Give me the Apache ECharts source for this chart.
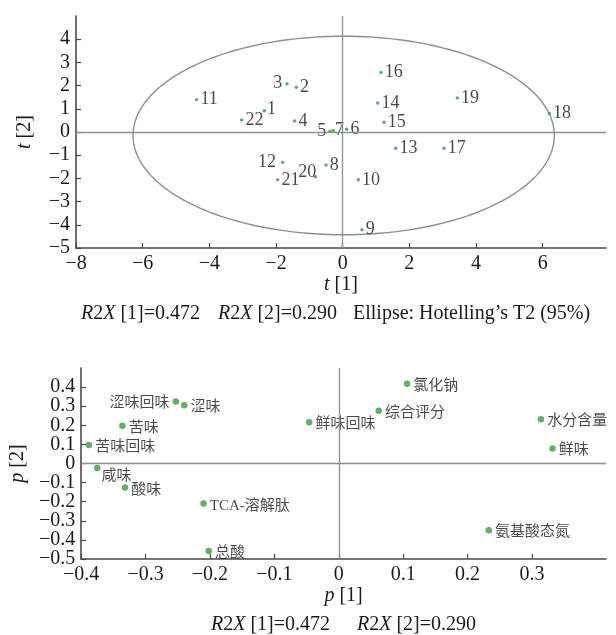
<!DOCTYPE html>
<html>
<head>
<meta charset="utf-8">
<title>PCA scores and loadings</title>
<script src="https://cdn.jsdelivr.net/npm/echarts@6/dist/echarts.min.js"></script>
<style>
  html, body { margin: 0; padding: 0; background: #fff; }
  #chart { width: 616px; height: 635px; }
</style>
</head>
<body>
<div id="chart"></div>
<script>
// score plot t[1] / t[2]
const sampleIds = ['1', '2', '3', '4', '5', '6', '7', '8', '9', '10', '11',
  '12', '13', '14', '15', '16', '17', '18', '19', '20', '21', '22']
const scoreT1 = [-2.35, -1.39, -1.67, -1.44, -0.38, 0.12, -0.28, -0.50, 0.58, 0.47, -4.38,
  -1.80, 1.59, 1.05, 1.24, 1.15, 3.04, 6.20, 3.44, -0.82, -1.95, -3.03]
const scoreT2 = [0.92, 1.93, 2.08, 0.47, 0.03, 0.12, 0.07, -1.42, -4.21, -2.06, 1.39,
  -1.31, -0.70, 1.25, 0.42, 2.56, -0.70, 0.80, 1.47, -1.93, -2.06, 0.52]

// Hotelling T2 (95%) ellipse
const ellipseCenter = [0.03, -0.15]
const ellipseRadii = [6.32, 4.28]

// loading plot p[1] / p[2]
const variableNames = ['涩味回味', '涩味', '苦味', '苦味回味', '咸味', '酸味', 'TCA-溶解肽', '总酸',
  '鲜味回味', '氯化钠', '综合评分', '水分含量', '鲜味', '氨基酸态氮']
const loadingP1 = [-0.253, -0.240, -0.336, -0.388, -0.375, -0.332, -0.210, -0.202,
  -0.046, 0.106, 0.062, 0.314, 0.332, 0.233]
const loadingP2 = [0.325, 0.305, 0.198, 0.097, -0.023, -0.126, -0.210, -0.458,
  0.216, 0.418, 0.276, 0.232, 0.079, -0.349]

// tick labels
const t1Ticks = [-8, -6, -4, -2, 0, 2, 4, 6]
const t2Ticks = [-5, -4, -3, -2, -1, 0, 1, 2, 3, 4]
const p1Ticks = [-0.4, -0.3, -0.2, -0.1, 0, 0.1, 0.2, 0.3]
const p2Ticks = [-0.5, -0.4, -0.3, -0.2, -0.1, 0, 0.1, 0.2, 0.3, 0.4]

const caption1 = ['{i|R}2{i|X} [1]=0.472', '{i|R}2{i|X} [2]=0.290', 'Ellipse: Hotelling’s T2 (95%)']
const caption2 = ['{i|R}2{i|X} [1]=0.472', '{i|R}2{i|X} [2]=0.290']

const SERIF = '"Liberation Serif", "DejaVu Serif", serif'
const CJK = '"Liberation Serif", "Noto Sans CJK SC", sans-serif'
const AXIS_COLOR = '#4a4a4a'
const GUIDE_COLOR = '#8f8f8f'
const DOT_COLOR = '#3f9a41'
const TEXT_COLOR = '#1a1a1a'

const fmt = (v) => {
  const s = Math.abs(v) < 1e-9 ? '0' : String(+v.toFixed(2))
  return s.replace('-', '\u2212')
}

// p[2] labels sit closer than their own height, so they are split over two
// overlaid axes (even / odd) to keep echarts from dropping any of them
const p2LabelsA = p2Ticks.filter((v, i) => i % 2 === 0)
const p2LabelsB = p2Ticks.filter((v, i) => i % 2 === 1)

// label tweaks for crowded points
const labelTweaks = {
  '3': { position: 'left', distance: 3 },
  '12': { position: 'left', distance: 5 },
  '5': { position: 'left', distance: 2 },
  '7': { position: 'right', distance: 0 },
  '1': { position: 'right', distance: 1, offset: [0, -1] },
  '20': { position: 'top', distance: 2, offset: [-8, 8] },
  '涩味回味': { position: 'left', distance: 3 },
  '咸味': { offset: [-2, 8] }
}

const scoreData = sampleIds.map((id, i) => {
  const item = { name: id, value: [scoreT1[i], scoreT2[i]] }
  if (labelTweaks[id]) item.label = labelTweaks[id]
  return item
})

const loadingData = variableNames.map((n, i) => {
  const item = { name: n, value: [loadingP1[i], loadingP2[i]] }
  if (labelTweaks[n]) item.label = labelTweaks[n]
  return item
})

const valueAxis = (extra) => Object.assign({
  type: 'value',
  splitLine: { show: false },
  axisLine: { show: true, onZero: false, lineStyle: { color: AXIS_COLOR, width: 1.6 } },
  nameLocation: 'middle',
  nameTextStyle: {
    fontFamily: SERIF, fontSize: 20, color: TEXT_COLOR,
    rich: { i: { fontFamily: SERIF, fontSize: 20, fontStyle: 'italic', color: TEXT_COLOR } }
  }
}, extra)

const tickStyle = (ticks) => ({
  show: true,
  inside: true,
  length: 5,
  customValues: ticks,
  lineStyle: { color: AXIS_COLOR, width: 1.2 }
})

const labelStyle = (ticks) => ({
  customValues: ticks,
  showMinLabel: true,
  showMaxLabel: true,
  hideOverlap: false,
  formatter: fmt,
  fontFamily: SERIF,
  fontSize: 20,
  color: TEXT_COLOR,
  margin: 6
})

const zeroLines = {
  silent: true,
  symbol: ['none', 'none'],
  label: { show: false },
  animation: false,
  lineStyle: { color: GUIDE_COLOR, type: 'solid', width: 1.3 },
  data: [{ xAxis: 0 }, { yAxis: 0 }]
}

const capStyle = (text, x, y) => ({
  type: 'text',
  left: x,
  top: y,
  style: {
    text: text,
    fontFamily: SERIF,
    fontSize: 20,
    fill: TEXT_COLOR,
    rich: { i: { fontFamily: SERIF, fontSize: 20, fontStyle: 'italic', fill: TEXT_COLOR } }
  }
})

const chart = echarts.init(document.getElementById('chart'), null, { renderer: 'canvas' })

chart.setOption({
  animation: false,
  backgroundColor: '#fff',
  grid: [
    { left: 76, right: 10, top: 16, height: 232 },
    { left: 76, right: 10, top: 368, height: 191 }
  ],
  xAxis: [
    valueAxis({
      gridIndex: 0, min: -8, max: 7.9, interval: 2,
      name: '{i|t} [1]', nameGap: 27,
      axisTick: tickStyle(t1Ticks),
      axisLabel: labelStyle(t1Ticks)
    }),
    valueAxis({
      gridIndex: 1, min: -0.4, max: 0.415, interval: 0.1,
      name: '{i|p} [1]', nameGap: 27,
      axisTick: tickStyle(p1Ticks),
      axisLabel: labelStyle(p1Ticks)
    })
  ],
  yAxis: [
    valueAxis({
      gridIndex: 0, min: -5, max: 5, interval: 1,
      name: '{i|t} [2]', nameGap: 41,
      axisTick: tickStyle(t2Ticks),
      axisLabel: labelStyle(t2Ticks)
    }),
    valueAxis({
      gridIndex: 1, min: -0.5, max: 0.5, interval: 0.1,
      name: '{i|p} [2]', nameGap: 41,
      axisTick: tickStyle(p2Ticks),
      axisLabel: labelStyle(p2LabelsA)
    }),
    valueAxis({
      gridIndex: 1, min: -0.5, max: 0.5, interval: 0.1,
      position: 'left',
      axisLine: { show: false },
      axisTick: { show: false },
      axisLabel: labelStyle(p2LabelsB)
    })
  ],
  series: [
    {
      type: 'custom',
      xAxisIndex: 0,
      yAxisIndex: 0,
      silent: true,
      data: [ellipseCenter],
      renderItem: (params, api) => {
        const pts = []
        for (let k = 0; k <= 180; k++) {
          const a = (k / 180) * Math.PI * 2
          pts.push(api.coord([
            ellipseCenter[0] + ellipseRadii[0] * Math.cos(a),
            ellipseCenter[1] + ellipseRadii[1] * Math.sin(a)
          ]))
        }
        return {
          type: 'polyline',
          shape: { points: pts },
          style: { stroke: GUIDE_COLOR, fill: null, lineWidth: 1.4 }
        }
      }
    },
    {
      type: 'scatter',
      xAxisIndex: 0,
      yAxisIndex: 0,
      symbolSize: 3.5,
      itemStyle: { color: DOT_COLOR },
      data: scoreData,
      markLine: zeroLines,
      label: {
        show: true,
        position: 'right',
        distance: 2,
        formatter: '{b}',
        fontFamily: SERIF,
        fontSize: 18,
        color: TEXT_COLOR
      }
    },
    {
      type: 'scatter',
      xAxisIndex: 1,
      yAxisIndex: 1,
      symbolSize: 6.5,
      itemStyle: { color: DOT_COLOR },
      data: loadingData,
      markLine: zeroLines,
      label: {
        show: true,
        position: 'right',
        distance: 3,
        offset: [0, 2],
        formatter: '{b}',
        fontFamily: CJK,
        fontSize: 15,
        color: TEXT_COLOR
      }
    }
  ],
  graphic: [
    capStyle(caption1[0], 81, 304),
    capStyle(caption1[1], 218, 304),
    capStyle(caption1[2], 353, 304),
    capStyle(caption2[0], 211, 615),
    capStyle(caption2[1], 357, 615)
  ]
})
</script>
</body>
</html>
